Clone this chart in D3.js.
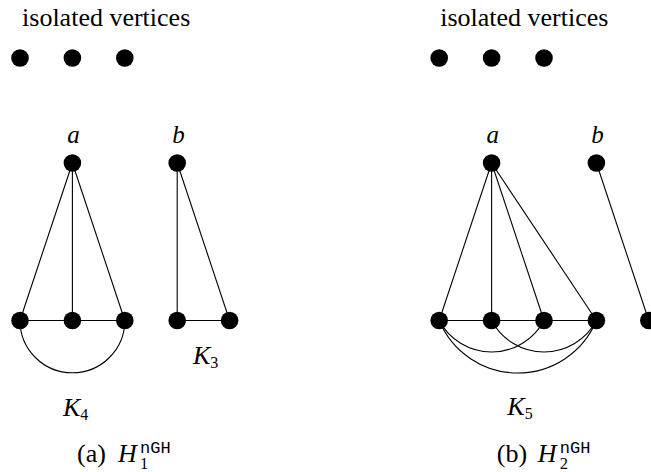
<!DOCTYPE html>
<html>
<head>
<meta charset="utf-8">
<script src="https://cdn.jsdelivr.net/npm/d3@7"></script>
<style>
  body { margin: 0; background: #fff; }
</style>
</head>
<body>
<div id="chart"></div>
<script>
//Figure size
const width = 651;
const height = 472;
const serif = '"Liberation Serif", "Times New Roman", serif';
const mono = '"Liberation Mono", monospace';

//Vertices on a grid (column, row)
const nodes = [
    { id: "i1", c: 0, r: 0 }, { id: "i2", c: 1, r: 0 }, { id: "i3", c: 2, r: 0 },
    { id: "a1", c: 1, r: 2 }, { id: "b1", c: 3, r: 2 },
    { id: "p0", c: 0, r: 5 }, { id: "p1", c: 1, r: 5 }, { id: "p2", c: 2, r: 5 },
    { id: "p3", c: 3, r: 5 }, { id: "p4", c: 4, r: 5 },
    { id: "j1", c: 8, r: 0 }, { id: "j2", c: 9, r: 0 }, { id: "j3", c: 10, r: 0 },
    { id: "a2", c: 9, r: 2 }, { id: "b2", c: 11, r: 2 },
    { id: "q0", c: 8, r: 5 }, { id: "q1", c: 9, r: 5 }, { id: "q2", c: 10, r: 5 },
    { id: "q3", c: 11, r: 5 }, { id: "q4", c: 12, r: 5 }
];

//Straight edges
const edges = [
    ["a1", "p0"], ["a1", "p1"], ["a1", "p2"], ["p0", "p1"], ["p1", "p2"],
    ["b1", "p3"], ["b1", "p4"], ["p3", "p4"],
    ["a2", "q0"], ["a2", "q1"], ["a2", "q2"], ["a2", "q3"],
    ["q0", "q1"], ["q1", "q2"], ["q2", "q3"], ["b2", "q4"]
];

//Curved edges (from, to, sag in grid units)
const arcs = [
    ["p0", "p2", 1],
    ["q0", "q2", 0.6], ["q1", "q3", 0.6], ["q0", "q3", 1]
];

//Vertex names
const vertexLabels = [
    { text: "a", node: "a1" }, { text: "b", node: "b1" },
    { text: "a", node: "a2" }, { text: "b", node: "b2" }
];

//Graph names
const graphLabels = [
    { name: "K", sub: "4", c: 0.82, r: 6.82 },
    { name: "K", sub: "3", c: 3.3, r: 5.82 },
    { name: "K", sub: "5", c: 9.3, r: 6.8 }
];

//Panel headings and captions
const headings = [{ text: "isolated vertices", c: 0.02 }, { text: "isolated vertices", c: 8.0 }];
const captions = [{ tag: "(a)", sub: "1", c: 1.09 }, { tag: "(b)", sub: "2", c: 9.1 }];

const svg = d3.select("#chart").append("svg").attr("width", width).attr("height", height)
    .style("font-family", serif);

//Grid scales
const x = d3.scaleLinear().domain([0, 12]).range([20, 648.8]);
const y = d3.scaleLinear().domain([0, 5]).range([58, 320.5]);
const unit = y(1) - y(0);

const byId = new Map(nodes.map(d => [d.id, d]));

//Straight edges
svg.append("g").selectAll("line").data(edges).enter().append("line")
    .attr("x1", d => x(byId.get(d[0]).c))
    .attr("y1", d => y(byId.get(d[0]).r))
    .attr("x2", d => x(byId.get(d[1]).c))
    .attr("y2", d => y(byId.get(d[1]).r))
    .attr("stroke", "#000").attr("stroke-width", 1.1);

//Curved edges as circular arcs under the row
svg.append("g").selectAll("path").data(arcs).enter().append("path")
    .attr("d", d => {
        const s = byId.get(d[0]), t = byId.get(d[1]);
        const x1 = x(s.c), x2 = x(t.c), yy = y(s.r);
        const h = (x2 - x1) / 2, sag = d[2] * unit;
        const rad = (h * h + sag * sag) / (2 * sag);
        return `M${x1},${yy} A${rad},${rad} 0 0 0 ${x2},${yy}`;
    })
    .attr("fill", "none").attr("stroke", "#000").attr("stroke-width", 1.1);

//Vertices
svg.append("g").selectAll("circle").data(nodes).enter().append("circle")
    .attr("cx", d => x(d.c)).attr("cy", d => y(d.r)).attr("r", 8.8).attr("fill", "#000");

//Vertex names
svg.append("g").selectAll("text").data(vertexLabels).enter().append("text")
    .attr("x", d => x(byId.get(d.node).c) + 1.2)
    .attr("y", d => y(byId.get(d.node).r) - 20)
    .attr("text-anchor", "middle")
    .style("font-style", "italic").style("font-size", "25px")
    .text(d => d.text);

//Headings
svg.append("g").selectAll("text").data(headings).enter().append("text")
    .attr("x", d => x(d.c) + 1).attr("y", y(0) - 32)
    .style("font-size", "26px").text(d => d.text);

//Graph names with subscripts
const gl = svg.append("g").selectAll("text").data(graphLabels).enter().append("text")
    .attr("x", d => x(d.c)).attr("y", d => y(d.r));
gl.append("tspan").style("font-style", "italic").style("font-size", "26px").text(d => d.name);
gl.append("tspan").attr("dy", 4).style("font-size", "16px").text(d => d.sub);

//Captions: tag, H, stacked superscript and subscript in one text
const cap = svg.append("g").selectAll("text").data(captions).enter().append("text")
    .attr("x", d => x(d.c)).attr("y", 462);
cap.append("tspan").style("font-size", "26px").text(d => d.tag);
cap.append("tspan").attr("x", d => x(d.c) + 41)
    .style("font-style", "italic").style("font-size", "26px").text("H");
cap.append("tspan").attr("x", d => x(d.c) + 63).attr("y", 453)
    .style("font-family", mono).style("font-size", "17px").text("nGH");
cap.append("tspan").attr("x", d => x(d.c) + 63).attr("y", 469)
    .style("font-size", "16.5px").text(d => d.sub);
</script>
</body>
</html>
